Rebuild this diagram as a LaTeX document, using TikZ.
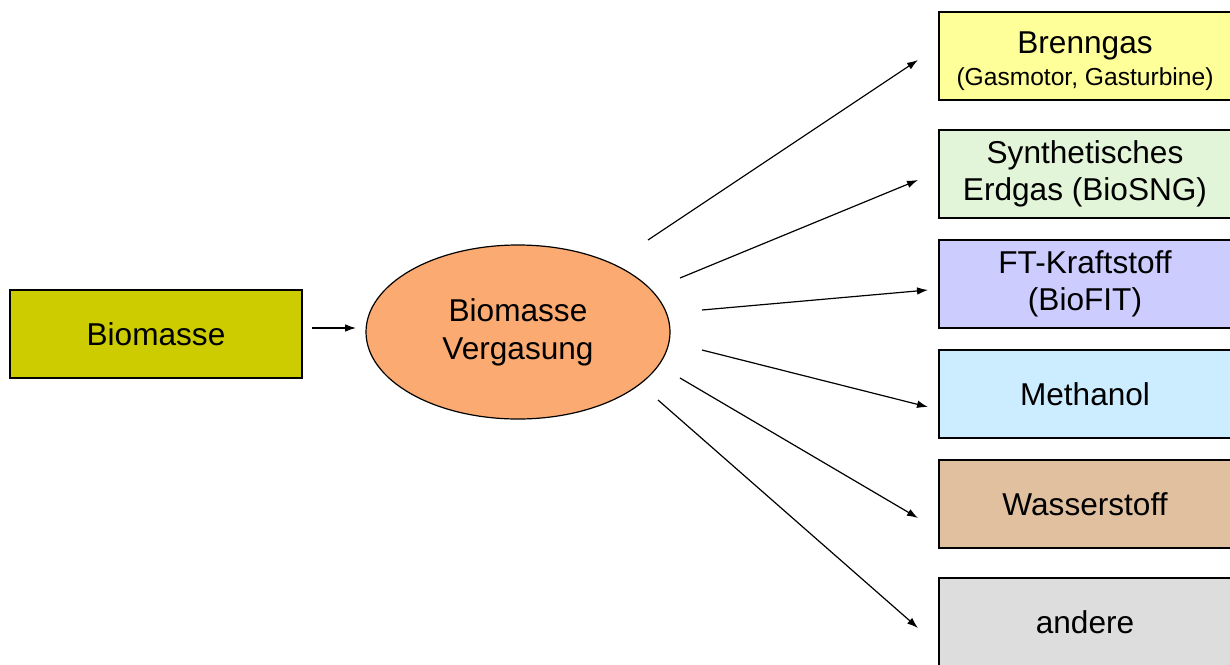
\documentclass[tikz,border=0pt]{standalone}
\usepackage{fontspec}
\setmainfont{Liberation Sans}
\usetikzlibrary{shapes.geometric,arrows.meta}
\definecolor{biogelb}{RGB}{204,204,0}
\definecolor{orangeell}{RGB}{251,170,114}
\definecolor{hellgelb}{RGB}{255,255,153}
\definecolor{hellgruen}{RGB}{226,245,216}
\definecolor{lila}{RGB}{204,204,255}
\definecolor{hellblau}{RGB}{204,236,255}
\definecolor{braun}{RGB}{225,192,160}
\definecolor{grau}{RGB}{221,221,221}
\tikzset{
  kasten/.style={draw, line width=0.6pt, minimum width=146pt, minimum height=44pt,
    align=center, inner sep=0pt, font=\fontsize{15.8}{18.5}\selectfont},
  pfeil/.style={-{Latex[length=5.5pt,width=3.8pt]}, line width=0.6pt}
}
\begin{document}
\begin{tikzpicture}[x=0.5pt,y=-0.5pt]
        \useasboundingbox (0,0) rectangle (1230,664);
        % Eingang
        \node[kasten, fill=biogelb] (biomasse) at (156,334) {Biomasse};
        \node[draw, ellipse, line width=0.6pt, fill=orangeell, minimum width=152pt, minimum height=87pt,
          inner sep=0pt, align=center, font=\fontsize{15.8}{19}\selectfont] (vergasung) at (518,332) {Biomasse\\Vergasung};
        % Produkte
        \node[kasten, fill=hellgelb] (brenngas) at (1085,56) {\rule{0pt}{16.5pt}Brenngas\\[-2.5pt]{\fontsize{12.3}{15}\selectfont(Gasmotor, Gasturbine)}};
        \node[kasten, fill=hellgruen] (sng) at (1085,174) {Synthetisches\\Erdgas (BioSNG)};
        \node[kasten, fill=lila] (ft) at (1085,284) {FT-Kraftstoff\\(BioFIT)};
        \node[kasten, fill=hellblau] (methanol) at (1085,394) {Methanol};
        \node[kasten, fill=braun] (wasserstoff) at (1085,504) {Wasserstoff};
        \node[kasten, fill=grau] (andere) at (1085,622) {andere};
        % Pfeile
        \coordinate (e0) at (312,328); \coordinate (a0) at (356,328);
        \draw[pfeil] (e0) -- (a0);
        \coordinate (s1) at (648,240); \coordinate (z1) at (918,60);
        \coordinate (s2) at (680,278); \coordinate (z2) at (918,180);
        \coordinate (s3) at (702,310); \coordinate (z3) at (928,290);
        \coordinate (s4) at (702,350); \coordinate (z4) at (928,407);
        \coordinate (s5) at (680,378); \coordinate (z5) at (918,518);
        \coordinate (s6) at (658,400); \coordinate (z6) at (918,628);
        \foreach \i in {1,...,6}
          \draw[pfeil] (s\i) -- (z\i);
    \end{tikzpicture}
\end{document}
